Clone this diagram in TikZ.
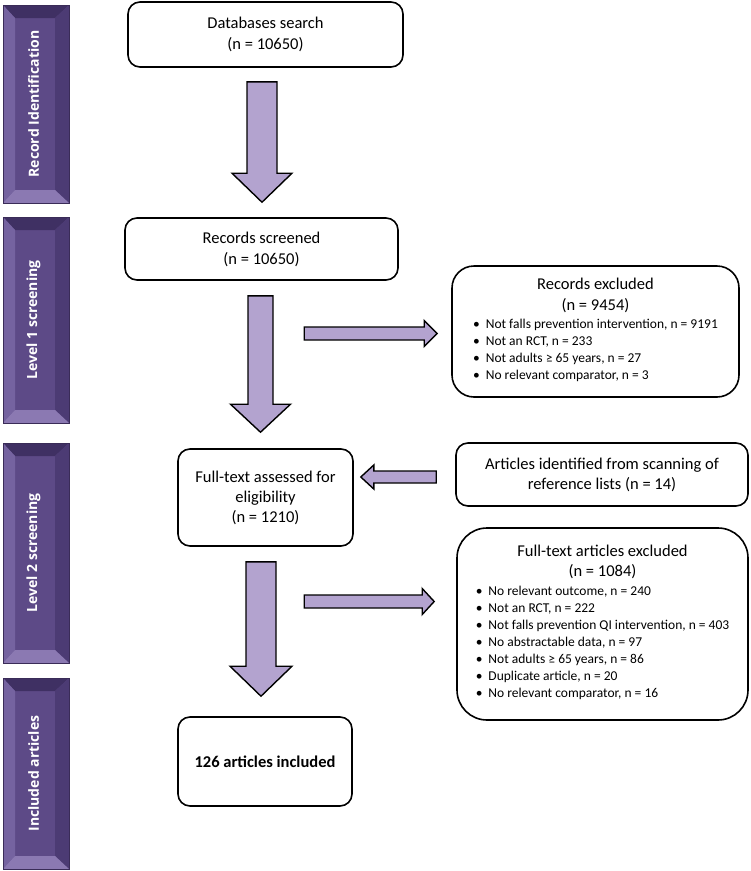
\documentclass[tikz,border=0pt]{standalone}
\usepackage{fontspec}
\setmainfont{Carlito}
\newfontfamily\barfont{Open Sans}
\usetikzlibrary{calc}
\definecolor{arrowfill}{HTML}{B3A3CF}
\definecolor{barface}{HTML}{5D4A87}
\definecolor{bartop}{HTML}{3F3063}
\definecolor{barleft}{HTML}{7563A0}
\definecolor{barright}{HTML}{4C3B74}
\definecolor{barbottom}{HTML}{8B79B2}
\definecolor{barline}{HTML}{3A2C58}
% vertical block arrow: #1 top-centre coordinate, #2 tip coordinate, #3 shaft half width, #4 head half width, #5 head length
\newcommand\vblockarrow[5]{%
  \draw[blockarrow] let \p1=(#1), \p2=(#2) in
    (\x2-#3pt,\y1) -- (\x2+#3pt,\y1) -- (\x2+#3pt,\y2+#5pt) -- (\x2+#4pt,\y2+#5pt)
    -- (\x2,\y2) -- (\x2-#4pt,\y2+#5pt) -- (\x2-#3pt,\y2+#5pt) -- cycle;}
% horizontal block arrow pointing right
\newcommand\rblockarrow[5]{%
  \draw[blockarrow] let \p1=(#1), \p2=(#2) in
    (\x1,\y2+#3pt) -- (\x2-#5pt,\y2+#3pt) -- (\x2-#5pt,\y2+#4pt) -- (\x2,\y2)
    -- (\x2-#5pt,\y2-#4pt) -- (\x2-#5pt,\y2-#3pt) -- (\x1,\y2-#3pt) -- cycle;}
% horizontal block arrow pointing left
\newcommand\lblockarrow[5]{%
  \draw[blockarrow] let \p1=(#1), \p2=(#2) in
    (\x1,\y2+#3pt) -- (\x2+#5pt,\y2+#3pt) -- (\x2+#5pt,\y2+#4pt) -- (\x2,\y2)
    -- (\x2+#5pt,\y2-#4pt) -- (\x2+#5pt,\y2-#3pt) -- (\x1,\y2-#3pt) -- cycle;}
% bevelled side bar: #1 name, #2 top, #3 bottom, #4 text
\newcommand\sidebar[4]{%
  \fill[barface] (3,#2) rectangle (69,#3);
  \fill[bartop] (3,#2) -- (69,#2) -- (55,{#2+13}) -- (15,{#2+13}) -- cycle;
  \fill[barleft] (3,#2) -- (15,{#2+13}) -- (15,{#3-13}) -- (3,#3) -- cycle;
  \fill[barright] (69,#2) -- (55,{#2+13}) -- (55,{#3-13}) -- (69,#3) -- cycle;
  \fill[barbottom] (3,#3) -- (15,{#3-13}) -- (55,{#3-13}) -- (69,#3) -- cycle;
  \draw[barline, line width=0.8pt] (3,#2) rectangle (69,#3);
  \node[bartext] (#1) at (33.5,{(#2+#3)/2}) {#4};}
\begin{document}
\begin{tikzpicture}[x=1pt,y=-1pt,
  box/.style={draw=black, line width=1.6pt, rounded corners=12pt, fill=white,
    align=center, inner sep=0pt, font=\fontsize{16.5}{21}\selectfont},
  listbox/.style={box, rounded corners=#1},
  blockarrow/.style={draw=black, line width=1.4pt, fill=arrowfill, line join=miter},
  bartext/.style={rotate=90, text=white, font=\barfont\bfseries\fontsize{14}{16}\selectfont, inner sep=0pt}]
\useasboundingbox (0,0) rectangle (751,871);

% side bars
\sidebar{s1}{5}{203}{Record Identification}
\sidebar{s2}{217}{423}{Level 1 screening}
\sidebar{s3}{443}{663}{Level 2 screening}
\sidebar{s4}{678}{869}{Included articles}

% boxes
\node[box, minimum width=275, minimum height=65] (db) at (265.5,34.5) {Databases search\\(n = 10650)};
\node[box, minimum width=273, minimum height=62] (rs) at (261.5,249) {Records screened\\(n = 10650)};
\node[box, minimum width=175, minimum height=97, font=\fontsize{16.5}{20}\selectfont] (fa) at (265.5,497.5) {Full-text assessed for\\eligibility\\(n = 1210)};
\node[box, minimum width=174, minimum height=89, font=\fontsize{16.5}{21}\selectfont\bfseries] (inc) at (265,761.5) {126 articles included};
\node[box, minimum width=292, minimum height=63, font=\fontsize{16.5}{20}\selectfont] (ref) at (602,474.5) {Articles identified from scanning of\\reference lists (n = 14)};

\node[listbox=22pt, minimum width=287, minimum height=131] (re) at (595.5,331.5) {%
  \fontsize{13.5}{17}\selectfont
  \begin{tabular}{@{}l@{\hspace{6pt}}l@{}}
  \multicolumn{2}{c}{\fontsize{16.5}{21}\selectfont Records excluded}\\[4pt]
  \multicolumn{2}{c}{\fontsize{16.5}{21}\selectfont (n = 9454)}\\[1pt]
  \textbullet & Not falls prevention intervention, n = 9191\\
  \textbullet & Not an RCT, n = 233\\
  \textbullet & Not adults ≥ 65 years, n = 27\\
  \textbullet & No relevant comparator, n = 3
  \end{tabular}};

\node[listbox=30pt, minimum width=291, minimum height=192] (fe) at (602.5,624) {%
  \fontsize{13.5}{17}\selectfont
  \begin{tabular}{@{}l@{\hspace{6pt}}l@{}}
  \multicolumn{2}{c}{\fontsize{16.5}{21}\selectfont Full-text articles excluded}\\[3pt]
  \multicolumn{2}{c}{\fontsize{16.5}{21}\selectfont (n = 1084)}\\[2pt]
  \textbullet & No relevant outcome, n = 240\\
  \textbullet & Not an RCT, n = 222\\
  \textbullet & Not falls prevention QI intervention, n = 403\\
  \textbullet & No abstractable data, n = 97\\
  \textbullet & Not adults ≥ 65 years, n = 86\\
  \textbullet & Duplicate article, n = 20\\
  \textbullet & No relevant comparator, n = 16
  \end{tabular}};

% connector end points
\coordinate (a1top) at ($(db.south)+(-3.5,14)$);
\coordinate (a1tip) at ($(rs.north)+(0.5,-15)$);
\coordinate (a2top) at ($(rs.south)+(-1,15)$);
\coordinate (a2tip) at ($(fa.north)+(-5,-16)$);
\coordinate (a3top) at ($(fa.south)+(-3.5,15)$);
\coordinate (a3tip) at ($(inc.north)+(-4,-20)$);
\coordinate (r1start) at ($(re.west)+(-147,2)$);
\coordinate (r1tip) at ($(re.west)+(-14,2)$);
\coordinate (lstart) at ($(ref.west)+(-19,2.5)$);
\coordinate (ltip) at ($(fa.east)+(7,-20.5)$);
\coordinate (r2start) at ($(fe.west)+(-152,-22.5)$);
\coordinate (r2tip) at ($(fe.west)+(-22,-22.5)$);

% block arrows
\vblockarrow{a1top}{a1tip}{15}{30}{29}
\vblockarrow{a2top}{a2tip}{12.5}{30}{28}
\vblockarrow{a3top}{a3tip}{15}{31}{30}
\rblockarrow{r1start}{r1tip}{6.5}{13}{13}
\lblockarrow{lstart}{ltip}{6}{12}{13}
\rblockarrow{r2start}{r2tip}{6.5}{13}{12}
\end{tikzpicture}
\end{document}
